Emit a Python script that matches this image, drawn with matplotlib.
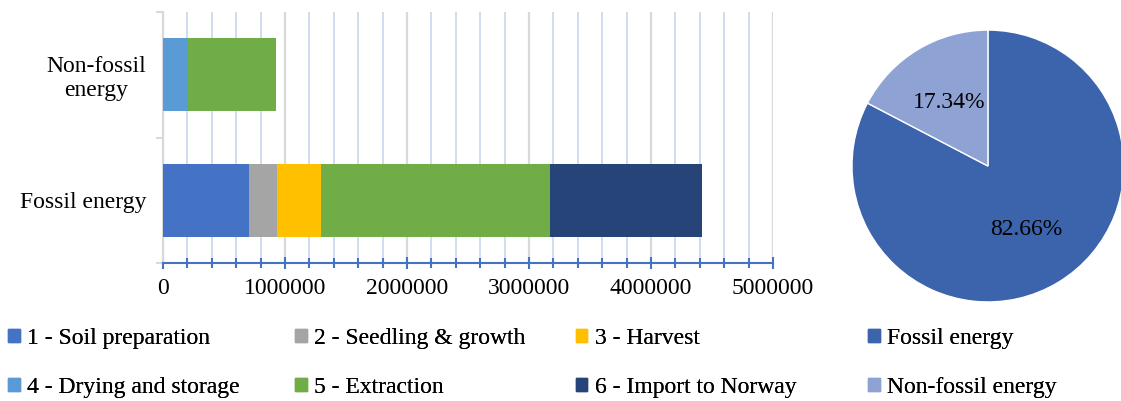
import matplotlib.pyplot as plt
from matplotlib.patches import Patch
from matplotlib.ticker import MultipleLocator, FuncFormatter

plt.rcParams['font.family'] = ['Liberation Serif', 'DejaVu Serif']
plt.rcParams['font.size'] = 17

# data
categories = ['Fossil energy', 'Non-fossil\nenergy']
stages = ['1 - Soil preparation', '2 - Seedling & growth', '3 - Harvest',
          '4 - Drying and storage', '5 - Extraction', '6 - Import to Norway']
# rows follow categories: [fossil, non-fossil]
soil = [707000, 0]
seedling = [226000, 0]
harvest = [363000, 0]
drying = [0, 202000]
extraction = [1879000, 725000]
import_no = [1244000, 0]
stage_values = [soil, seedling, harvest, drying, extraction, import_no]
stage_colors = ['#4472C4', '#A5A5A5', '#FFC000', '#5B9BD5', '#70AD47', '#264478']

pie_labels = ['Fossil energy', 'Non-fossil energy']
pie_share = [82.66, 17.34]
pie_colors = ['#3C64AC', '#8FA2D4']

font = dict(family='Liberation Serif', size=17)

fig = plt.figure(figsize=(11.21, 4.01), dpi=100)

# stacked bar chart
ax = fig.add_axes([0.1454, 0.344, 0.5442, 0.626])
y = range(len(categories))
left = [0] * len(categories)
for vals, col, name in zip(stage_values, stage_colors, stages):
    ax.barh(y, vals, left=left, height=0.58, color=col, label=name, zorder=3)
    left = [a + b for a, b in zip(left, vals)]

ax.set_xlim(0, 5000000)
ax.set_ylim(-0.5, 1.5)
ax.xaxis.set_major_locator(MultipleLocator(1000000))
ax.xaxis.set_minor_locator(MultipleLocator(200000))
ax.xaxis.set_major_formatter(FuncFormatter(lambda v, p: '%d' % v))
ax.grid(axis='x', which='minor', color='#C9D6EE', lw=1.2, zorder=0)
ax.grid(axis='x', which='major', color='#D9D9D9', lw=1.6, zorder=1)
ax.set_yticks([-0.5, 0.5, 1.5])
ax.set_yticklabels([])
ax.set_yticks(list(y), categories, minor=True)
ax.tick_params(axis='y', which='major', length=5, color='#D9D9D9', width=1.5)
ax.tick_params(axis='y', which='minor', length=0, pad=12)
for t in ax.get_yticklabels(minor=True):
    t.set_multialignment('center')
    t.set_fontfamily('Liberation Serif')
ax.tick_params(axis='x', which='both', direction='inout', color='#4472C4', width=1.5)
ax.tick_params(axis='x', which='major', length=9, pad=6)
ax.tick_params(axis='x', which='minor', length=7)
for t in ax.get_xticklabels():
    t.set_fontfamily('Liberation Serif')
for s in ['top', 'right']:
    ax.spines[s].set_visible(False)
ax.spines['left'].set_color('#D9D9D9')
ax.spines['left'].set_linewidth(1.5)
ax.spines['bottom'].set_color('#4472C4')
ax.spines['bottom'].set_linewidth(1.5)

# pie chart
pax = fig.add_axes([0.7600, 0.247, 0.2426, 0.678])
wedges, texts, autotexts = pax.pie(pie_share, colors=pie_colors, startangle=90,
                                   counterclock=False, autopct='%.2f%%',
                                   pctdistance=0.55,
                                   wedgeprops=dict(edgecolor='white', linewidth=1),
                                   textprops=font)
pax.set_xlim(-1, 1)
pax.set_ylim(-1, 1)
pax.set_aspect('equal')

# legend: four columns of two entries
bar_handles = [Patch(color=c) for c in stage_colors]
pie_handles = [Patch(color=c) for c in pie_colors]
columns = [
    ([bar_handles[0], bar_handles[3]], [stages[0], stages[3]], -0.003),
    ([bar_handles[1], bar_handles[4]], [stages[1], stages[4]], 0.253),
    ([bar_handles[2], bar_handles[5]], [stages[2], stages[5]], 0.503),
    (pie_handles, pie_labels, 0.764),
]
for hs, ls, xpos in columns:
    leg = fig.legend(hs, ls, loc='center left', bbox_to_anchor=(xpos, 0.095),
                     frameon=False, handlelength=0.5, handleheight=0.5,
                     handletextpad=0.3, labelspacing=1.2, borderpad=0,
                     prop=font)
    fig.add_artist(leg)

fig.savefig('out.png', dpi=100)
